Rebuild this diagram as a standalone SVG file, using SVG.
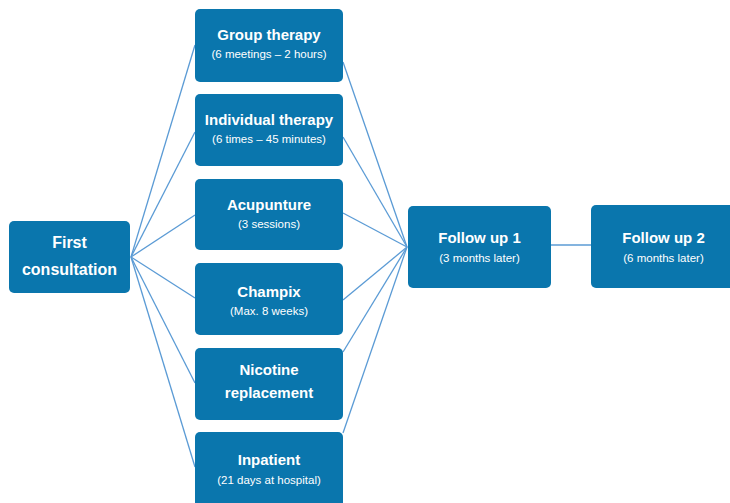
<svg xmlns="http://www.w3.org/2000/svg" width="730" height="503" viewBox="0 0 730 503">
<style>
.box{fill:#0a76ad;}
.t{font-family:"Liberation Sans",Arial,sans-serif;font-weight:bold;font-size:15px;fill:#fff;text-anchor:middle;}
.big{font-size:16px;}
.s{font-family:"Liberation Sans",Arial,sans-serif;font-size:11.5px;fill:#fff;text-anchor:middle;}
.c line{stroke:#5b9bd5;stroke-width:1.3;}
</style>
<rect width="730" height="503" fill="#fff"/>
<g class="c" id="connectors">
<line x1="131" y1="257" x2="195" y2="45"/>
<line x1="131" y1="257" x2="195" y2="132"/>
<line x1="131" y1="257" x2="195" y2="215"/>
<line x1="131" y1="257" x2="195" y2="298"/>
<line x1="131" y1="257" x2="195" y2="383"/>
<line x1="131" y1="257" x2="195" y2="467"/>
<line x1="343" y1="62" x2="407" y2="247"/>
<line x1="343" y1="137" x2="407" y2="247"/>
<line x1="343" y1="213" x2="407" y2="247"/>
<line x1="343" y1="300" x2="407" y2="247"/>
<line x1="343" y1="352" x2="407" y2="247"/>
<line x1="343" y1="433" x2="407" y2="247"/>
<line x1="551" y1="245" x2="591" y2="245"/>
</g>
<g id="first">
<rect class="box" x="9" y="221" width="121" height="72" rx="5"/>
<text class="t big" x="69.5" y="248">First</text>
<text class="t big" x="69.5" y="275">consultation</text>
</g>
<g id="group">
<rect class="box" x="195" y="9" width="148" height="73" rx="5"/>
<text class="t" x="269" y="40">Group therapy</text>
<text class="s" x="269" y="58">(6 meetings – 2 hours)</text>
</g>
<g id="individual">
<rect class="box" x="195" y="94" width="148" height="72" rx="5"/>
<text class="t" x="269" y="125">Individual therapy</text>
<text class="s" x="269" y="143">(6 times – 45 minutes)</text>
</g>
<g id="acupunture">
<rect class="box" x="195" y="179" width="148" height="71" rx="5"/>
<text class="t" x="269" y="210">Acupunture</text>
<text class="s" x="269" y="228">(3 sessions)</text>
</g>
<g id="champix">
<rect class="box" x="195" y="263" width="148" height="72" rx="5"/>
<text class="t" x="269" y="297">Champix</text>
<text class="s" x="269" y="315">(Max. 8 weeks)</text>
</g>
<g id="nicotine">
<rect class="box" x="195" y="348" width="148" height="72" rx="5"/>
<text class="t" x="269" y="375">Nicotine</text>
<text class="t" x="269" y="398">replacement</text>
</g>
<g id="inpatient">
<rect class="box" x="195" y="432" width="148" height="76" rx="5"/>
<text class="t" x="269" y="465">Inpatient</text>
<text class="s" x="269" y="484">(21 days at hospital)</text>
</g>
<g id="followup1">
<rect class="box" x="408" y="206" width="143" height="82" rx="5"/>
<text class="t" x="479.5" y="243">Follow up 1</text>
<text class="s" x="479.5" y="262">(3 months later)</text>
</g>
<g id="followup2">
<rect class="box" x="591" y="205" width="145" height="83" rx="5"/>
<text class="t" x="663.5" y="243">Follow up 2</text>
<text class="s" x="663.5" y="262">(6 months later)</text>
</g>
</svg>
